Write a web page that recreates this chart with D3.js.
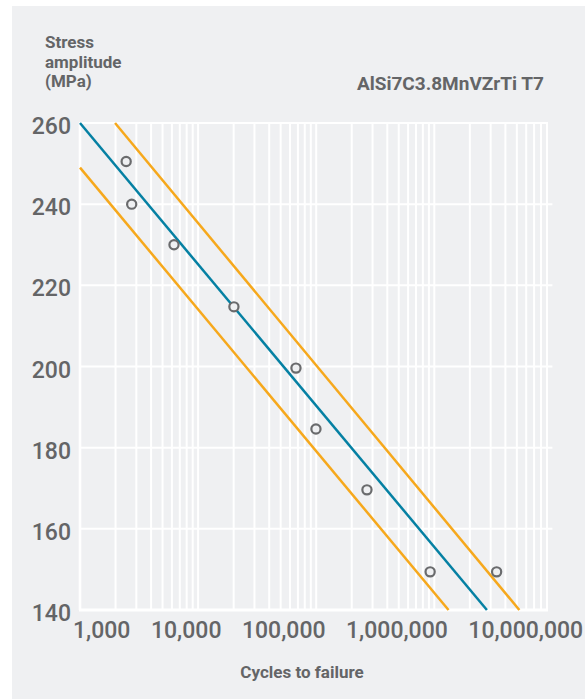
<!DOCTYPE html>
<html>
<head>
<meta charset="utf-8">
<script src="https://cdn.jsdelivr.net/npm/d3@7/dist/d3.min.js"></script>
<style>
  html, body { margin: 0; padding: 0; background: #ffffff; }
  svg { display: block; }
  text { font-family: Roboto, "Noto Sans", sans-serif; }
</style>
</head>
<body>
<svg id="chart" width="585" height="700"></svg>
<script>
// ---- data ----
const yTicks = [140, 160, 180, 200, 220, 240, 260];
const xTicks = [1e3, 1e4, 1e5, 1e6, 1e7];
const yTitleLines = ["Stress", "amplitude", "(MPa)"];
const chartTitle = "AlSi7C3.8MnVZrTi T7";
const xTitle = "Cycles to failure";

// test results: cycles to failure and stress amplitude
const cycles = [2460, 2740, 6250, 20100, 67400, 99500, 269000, 922000, 3370000];
const stress = [250.5, 240, 230, 214.7, 199.6, 184.6, 169.6, 149.4, 149.4];

// fitted curve (mean) and scatter band, as end points [cycles, stress]
const meanLine = [[1000, 260], [2790000, 140]];
const upperBand = [[1980, 260], [5250000, 140]];
const lowerBand = [[1000, 249], [1320000, 140]];

// ---- drawing ----
const svg = d3.select("#chart");
const bg = "#eff0f2";
const textCol = "#646567";

svg.append("rect").attr("x", 12).attr("y", 6).attr("width", 573).attr("height", 693).attr("fill", bg);

const x = d3.scaleLog().domain([1e3, 1e7]).range([80, 552.4]);
const y = d3.scaleLinear().domain([140, 260]).range([610, 123]);

const grid = svg.append("g").attr("stroke", "#ffffff");

// vertical grid lines: every 1..9 x 10^k inside the plot
const minor = [];
for (let k = 3; k <= 6; k++) for (let m = 1; m <= 9; m++) minor.push(m * Math.pow(10, k));
grid.selectAll("line.v").data(minor).join("line")
  .attr("class", "v")
  .attr("x1", d => x(d)).attr("x2", d => x(d))
  .attr("y1", y(260)).attr("y2", y(140))
  .attr("stroke-width", (d) => d === 1e3 ? 2.6 : 2);

// horizontal grid lines
grid.selectAll("line.h").data(yTicks).join("line")
  .attr("class", "h")
  .attr("x1", x(1e3) - 1)
  .attr("x2", d => (d === 260 || d === 140) ? x(9e6) + 1 : x(1e7))
  .attr("y1", d => y(d)).attr("y2", d => y(d))
  .attr("stroke-width", d => d === 140 ? 3 : 2);

// lines
const line = d3.line().x(d => x(d[0])).y(d => y(d[1]));
const lines = [
  { pts: upperBand, col: "#f6a81c" },
  { pts: lowerBand, col: "#f6a81c" },
  { pts: meanLine, col: "#0580a3" }
];
svg.append("g").selectAll("path").data(lines).join("path")
  .attr("d", d => line(d.pts))
  .attr("fill", "none")
  .attr("stroke", d => d.col)
  .attr("stroke-width", 2.5);

// points
svg.append("g").selectAll("circle").data(cycles.map((c, i) => [c, stress[i]])).join("circle")
  .attr("cx", d => x(d[0])).attr("cy", d => y(d[1]))
  .attr("r", 4.6)
  .attr("fill", bg)
  .attr("stroke", "#6a6b6d")
  .attr("stroke-width", 2.2);

// y axis
const yAxisG = svg.append("g").attr("transform", `translate(${x(1e3)},0)`)
  .call(d3.axisLeft(y).tickValues(yTicks).tickSize(0).tickPadding(9));
yAxisG.select(".domain").remove();
yAxisG.selectAll("text")
  .attr("dy", 0).attr("y", 10.5)
  .attr("font-size", 23).attr("font-weight", 500)
  .attr("fill", textCol).attr("font-family", "Roboto, 'Noto Sans', sans-serif");

// x axis (labels laid out one after another)
const xAxisG = svg.append("g").attr("transform", `translate(0,${y(140)})`)
  .call(d3.axisBottom(x).tickValues(xTicks).tickFormat(d3.format(",")).tickSize(0));
xAxisG.select(".domain").remove();
xAxisG.selectAll("text")
  .attr("dy", 0).attr("y", 28)
  .attr("font-size", 23).attr("font-weight", 500)
  .attr("fill", textCol).attr("font-family", "Roboto, 'Noto Sans', sans-serif");
let cursor = x(1e3) - 7;
xAxisG.selectAll(".tick").each(function () {
  const g = d3.select(this);
  const w = g.select("text").node().getComputedTextLength();
  g.attr("transform", `translate(${cursor + w / 2},0)`);
  cursor += w + 20.5;
});

// titles
svg.append("g").selectAll("text").data(yTitleLines).join("text")
  .attr("x", 45).attr("y", (d, i) => 48.3 + i * 19.5)
  .attr("font-size", 17).attr("font-weight", 700).attr("fill", textCol)
  .text(d => d);

svg.append("text").attr("x", 544).attr("y", 89.5).attr("text-anchor", "end")
  .attr("font-size", 19).attr("font-weight", 700).attr("fill", textCol)
  .text(chartTitle);

svg.append("text").attr("x", 302).attr("y", 678).attr("text-anchor", "middle")
  .attr("font-size", 17).attr("font-weight", 700).attr("fill", textCol)
  .text(xTitle);
</script>
</body>
</html>
